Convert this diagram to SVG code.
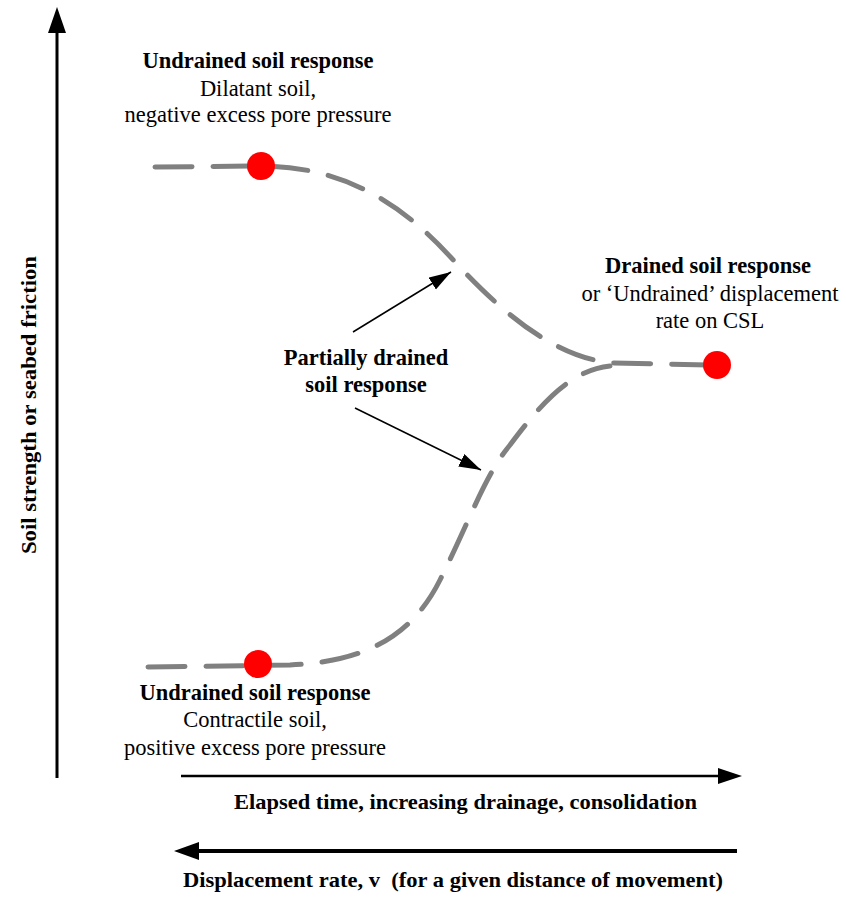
<svg xmlns="http://www.w3.org/2000/svg" width="846" height="898" viewBox="0 0 846 898">
<style>
  text { font-family: "Liberation Serif", "Times New Roman", serif; fill: #000; }
  .b { font-weight: bold; }
  .lbl { font-size: 22.5px; text-anchor: middle; }
  .curve { fill: none; stroke: #808080; stroke-width: 5; stroke-dasharray: 37 21; stroke-linecap: round; }
  .dot { fill: #ff0000; }
  .ann { stroke: #000; stroke-width: 1.5; fill: none; }
</style>
<defs>
  <marker id="ah" markerUnits="userSpaceOnUse" markerWidth="24" markerHeight="16" refX="22" refY="7" orient="auto">
    <polygon points="0,0 22,7 0,14" fill="#000"/>
  </marker>
</defs>

<g id="axes">
  <line x1="57" y1="778" x2="57" y2="28" stroke="#000" stroke-width="3"/>
  <polygon points="57,7 66,33 48,33" fill="#000"/>
  <text class="b" font-size="22" x="0" y="0" text-anchor="middle" textLength="298" lengthAdjust="spacingAndGlyphs" transform="translate(36,405) rotate(-90)">Soil strength or seabed friction</text>
</g>

<g id="connectors">
  <path class="curve" d="M155,167 L260,166 C340,166 400,200 455,262 C500,310 550,355 610,363 L715,365"/>
  <path class="curve" d="M148,667 L290,665 C360,662 410,640 440,580 C470,520 485,475 510,445 C540,405 570,370 610,366"/>
  <line class="ann" x1="353" y1="332" x2="451" y2="272" marker-end="url(#ah)"/>
  <line class="ann" x1="355" y1="408" x2="481" y2="470" marker-end="url(#ah)"/>
</g>

<g id="node-undrained-dilatant">
  <circle class="dot" cx="261" cy="166" r="14"/>
  <text class="lbl b" x="258" y="68">Undrained soil response</text>
  <text class="lbl" x="258" y="96">Dilatant soil,</text>
  <text class="lbl" x="258" y="122">negative excess pore pressure</text>
</g>

<g id="node-drained">
  <circle class="dot" cx="717" cy="365" r="14"/>
  <text class="lbl b" x="708" y="273">Drained soil response</text>
  <text class="lbl" x="710" y="301">or ‘Undrained’ displacement</text>
  <text class="lbl" x="710" y="328">rate on CSL</text>
</g>

<g id="node-partial">
  <text class="lbl b" x="366" y="365">Partially drained</text>
  <text class="lbl b" x="366" y="392">soil response</text>
</g>

<g id="node-undrained-contractile">
  <circle class="dot" cx="258" cy="664" r="14"/>
  <text class="lbl b" x="255" y="700">Undrained soil response</text>
  <text class="lbl" x="255" y="727">Contractile soil,</text>
  <text class="lbl" x="255" y="755">positive excess pore pressure</text>
</g>

<g id="time-axis">
  <line x1="181" y1="776" x2="720" y2="776" stroke="#000" stroke-width="2.5"/>
  <polygon points="742,776 718,768 718,784" fill="#000"/>
  <text class="b" font-size="22" x="234" y="809" textLength="463" lengthAdjust="spacingAndGlyphs">Elapsed time, increasing drainage, consolidation</text>
</g>

<g id="rate-axis">
  <line x1="196" y1="851" x2="737" y2="851" stroke="#000" stroke-width="4"/>
  <polygon points="174,851 199,842 199,860" fill="#000"/>
  <text class="b" font-size="22" x="183" y="887" textLength="540" lengthAdjust="spacingAndGlyphs" xml:space="preserve">Displacement rate, v  (for a given distance of movement)</text>
</g>
</svg>
